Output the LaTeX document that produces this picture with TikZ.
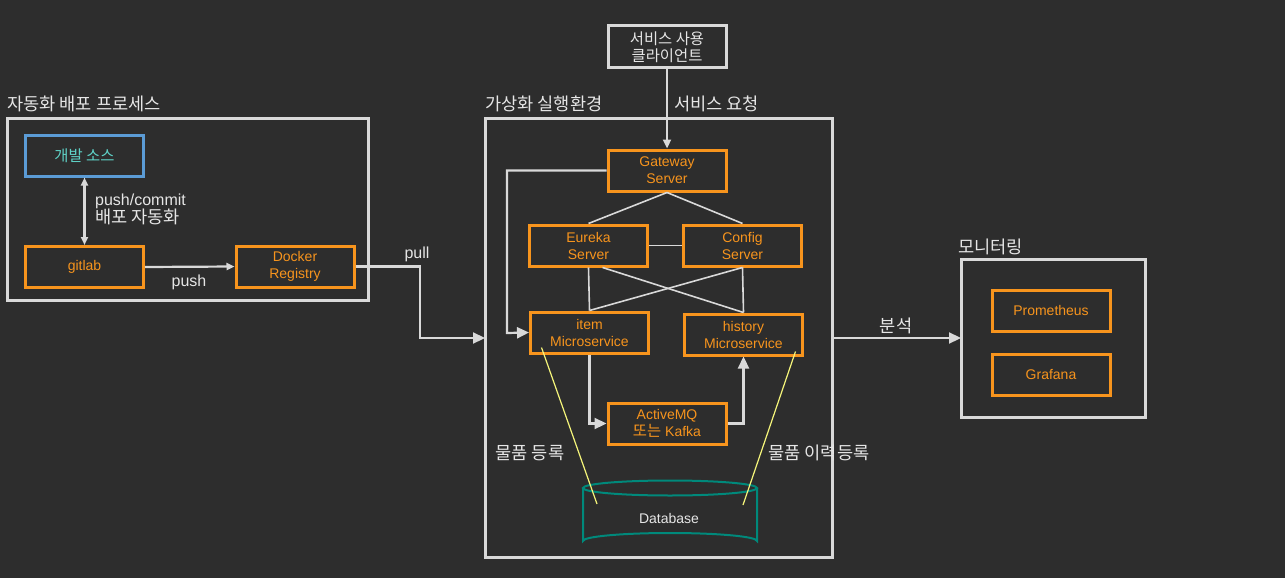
\documentclass[tikz,border=0pt]{standalone}
\usepackage{fontspec}
\setmainfont{Liberation Sans}
\newfontfamily\kr[Scale=1.1]{Noto Sans CJK KR}
\usetikzlibrary{arrows.meta}
\definecolor{bg}{HTML}{2D2D2D}
\definecolor{frame}{HTML}{D9D9D9}
\definecolor{org}{HTML}{F7941D}
\definecolor{blu}{HTML}{5B9BD5}
\definecolor{cyn}{HTML}{5FD3C8}
\definecolor{txt}{HTML}{E6E6E6}
\definecolor{ylw}{HTML}{F5F57A}
\definecolor{teal}{HTML}{00897B}
\tikzset{
  container/.style={draw=frame, line width=3pt},
  obox/.style={draw=org, line width=3pt, text=org, minimum width=118pt, minimum height=41pt, align=center, font=\fontsize{14}{17}\selectfont, inner sep=0pt},
  wbox/.style={draw=frame, line width=3pt, text=txt, minimum width=118pt, minimum height=42pt, align=center, font=\fontsize{14}{17}\selectfont, inner sep=0pt},
  title/.style={text=txt, font=\fontsize{16}{18}\selectfont, anchor=west, inner sep=0pt},
  lbl/.style={text=txt, font=\fontsize{16}{18}\selectfont, inner sep=0pt, align=left},
  conn/.style={draw=frame, line width=2.2pt},
  arr/.style={conn, -{Triangle[length=12pt,width=11pt]}},
  yl/.style={draw=ylw, line width=1.2pt},
}
\begin{document}
\begin{tikzpicture}[x=1pt,y=-1pt]
\fill[bg] (0,0) rectangle (1285,578);
\useasboundingbox (0,0) rectangle (1285,578);

% left container
\draw[container] (7,118) rectangle (368,300);
\node[title] (t1) at (7,104) {\kr 자동화 배포 프로세스};
\node[obox, draw=blu, text=cyn] (src) at (84.5,155.5) {\kr 개발 소스};
\node[obox] (git) at (84.5,267) {gitlab};
\node[obox] (dock) at (295,266.5) {Docker\\Registry};
\draw[conn, {Triangle[length=8pt,width=7pt]}-{Triangle[length=8pt,width=7pt]}] (src.south) -- (git.north);
\node[lbl, anchor=north west] (pc) at (95,194) {push/commit\\{\kr 배포 자동화}};
\draw[conn, -{Triangle[length=8pt,width=7pt]}] (git.east) -- (dock.west);
\node[lbl] (pushl) at (189,282) {push};

% middle container
\draw[container] (485,118) rectangle (832,557);
\node[title] (t2) at (485,104) {\kr 가상화 실행환경};
\coordinate (midL) at (485,338);
\coordinate (midR) at (832,338);
\draw[arr] (dock.east) -- (420,266.5) -- (420,338) -- (midL);
\node[lbl] (pulll) at (417,254) {pull};

\node[wbox] (cli) at (667,47) {\kr 서비스 사용\\\kr 클라이언트};
\node[obox] (gw) at (667,170.5) {Gateway\\Server};
\draw[conn, -{Triangle[length=9pt,width=8pt]}] (cli.south) -- (gw.north);
\node[lbl, anchor=west] (req) at (674,104) {\kr 서비스 요청};

\node[obox] (eu) at (588.5,245.5) {Eureka\\Server};
\node[obox] (cfg) at (742.5,245.5) {Config\\Server};
\node[obox] (item) at (589.5,332.5) {item\\Microservice};
\node[obox] (hist) at (743.5,334.5) {history\\Microservice};
\node[obox] (mq) at (667,423.5) {ActiveMQ\\{\kr 또는} Kafka};

\draw[conn, line width=1.6pt] (gw.south) -- (eu.north);
\draw[conn, line width=1.6pt] (gw.south) -- (cfg.north);
\draw[conn, line width=1.6pt] (eu.east) -- (cfg.west);
\draw[conn, line width=1.6pt] (eu.south) -- (item.north);
\draw[conn, line width=1.6pt] (cfg.south) -- (hist.north);
\draw[conn, line width=1.6pt] ([xshift=14pt]eu.south) -- (hist.north);
\draw[conn, line width=1.6pt] (cfg.south) -- (item.north);

\draw[arr] (gw.west) -- (507,170.5) -- (507,333) -- (item.west);
\draw[arr] (item.south) -- (589.5,423.5) -- (mq.west);
\draw[arr] (mq.east) -- (743.5,423.5) -- (hist.south);

% database
\draw[teal, line width=2pt, fill=bg] (583,488) -- (583,541) arc[start angle=180, end angle=360, x radius=87, y radius=8] -- (757,488);
\draw[teal, line width=2pt] (670,488) ellipse[x radius=87, y radius=7.5];
\node[text=txt, font=\fontsize{14}{16}\selectfont] (db) at (669,518) {Database};
\coordinate (dbL) at (597,504);
\coordinate (dbR) at (743,505);
\draw[yl] ([xshift=-48pt,yshift=7pt]item.south) -- (dbL);
\draw[yl] ([xshift=52pt,yshift=5pt]hist.south) -- (dbR);
\node[lbl] (reg1) at (530,453) {\kr 물품 등록};
\node[lbl] (reg2) at (819,453) {\kr 물품 이력등록};

% monitoring
\draw[container] (961,259) rectangle (1145,417);
\node[title] (t3) at (958,247) {\kr 모니터링};
\coordinate (monL) at (961,338);
\draw[arr] (midR) -- (monL);
\node[lbl] (an) at (896,326) {\kr 분석};
\node[obox] (prom) at (1051,310.5) {Prometheus};
\node[obox] (graf) at (1051,374.5) {Grafana};
\end{tikzpicture}
\end{document}
